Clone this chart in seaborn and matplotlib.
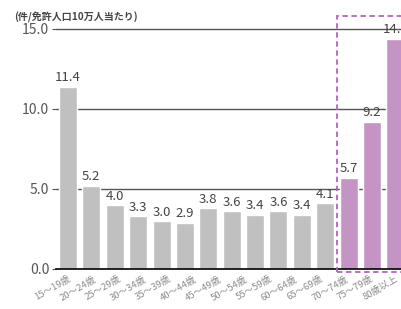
import matplotlib
matplotlib.use("Agg")
import matplotlib.pyplot as plt
import seaborn as sns
import pandas as pd
from matplotlib.patches import Rectangle

sns.set_style("white")
plt.rcParams['font.family'] = ['Noto Sans CJK JP', 'DejaVu Sans']

# 15 bars are drawn in the reference, but only 14 age labels appear under them
values = [11.4, 5.2, 4.0, 3.3, 3.0, 2.9, 3.8, 3.6, 3.4, 3.6, 3.4, 4.1, 5.7, 9.2, 14.4]
groups = ["gray"] * 12 + ["elder"] * 3
tick_labels = ["15～19歳", "20～24歳", "25～29歳", "30～34歳", "35～39歳", "40～44歳",
               "45～49歳", "50～54歳", "55～59歳", "60～64歳", "65～69歳", "70～74歳",
               "75～79歳", "80歳以上"]
yticks = [0.0, 5.0, 10.0, 15.0]
unit_label = "(件/免許人口10万人当たり)"

n = len(values)
bar_ids = [f"b{i:02d}" for i in range(n)]
df = pd.DataFrame({"cat": bar_ids, "value": values, "group": groups})

fig = plt.figure(figsize=(4.01, 3.09), dpi=100)
ax = fig.add_axes([56.3 / 401, 40 / 309, (407 - 56.3) / 401, 256 / 309])

sns.barplot(data=df, x="cat", y="value", hue="group",
            palette={"gray": "#c0c0c0", "elder": "#c495c4"},
            dodge=False, width=0.77, legend=False, ax=ax, zorder=3,
            saturation=1)

ax.set_xlim(-0.5, n - 0.5)
ax.set_ylim(0, 16)
for y in yticks[1:]:
    ax.axhline(y, color="#555555", lw=1.0, zorder=1)

for i, v in enumerate(values):
    ax.text(i, v + 0.15, f"{v:.1f}", ha="center", va="bottom",
            fontsize=9.5, color="#444444", zorder=4)

ax.set_yticks(yticks)
ax.set_yticklabels([f"{t:.1f}" for t in yticks], fontsize=10, color="#555555")
ax.tick_params(axis="y", length=3, color="#555555", pad=2, left=True)
ax.tick_params(axis="x", length=0, pad=4)

# the 14 labels are spread evenly across the span of the 15 bars
m = len(tick_labels)
step = (n - 1) / (m - 1)
ax.set_xticks([j * step for j in range(m)])
ax.set_xticklabels(tick_labels, rotation=30, ha="right", rotation_mode="anchor",
                   fontsize=6.8, color="#8a8a8a")
ax.set_xlabel("")
ax.set_ylabel("")

for s in ["top", "right", "left"]:
    ax.spines[s].set_visible(False)
ax.spines["bottom"].set_color("#000000")
ax.spines["bottom"].set_linewidth(1.2)
ax.spines["bottom"].set_zorder(5)

rect = Rectangle((11.5, -0.2), 4.0, 16.0, fill=False, edgecolor="#b860c4",
                 lw=1.3, ls=(0, (3, 2)), clip_on=False, zorder=6)
ax.add_patch(rect)

fig.text(14 / 401, 1 - 17 / 309, unit_label, fontsize=7.2,
         color="#444444", va="center", ha="left", fontweight="bold")

fig.savefig("out.png", dpi=100)
